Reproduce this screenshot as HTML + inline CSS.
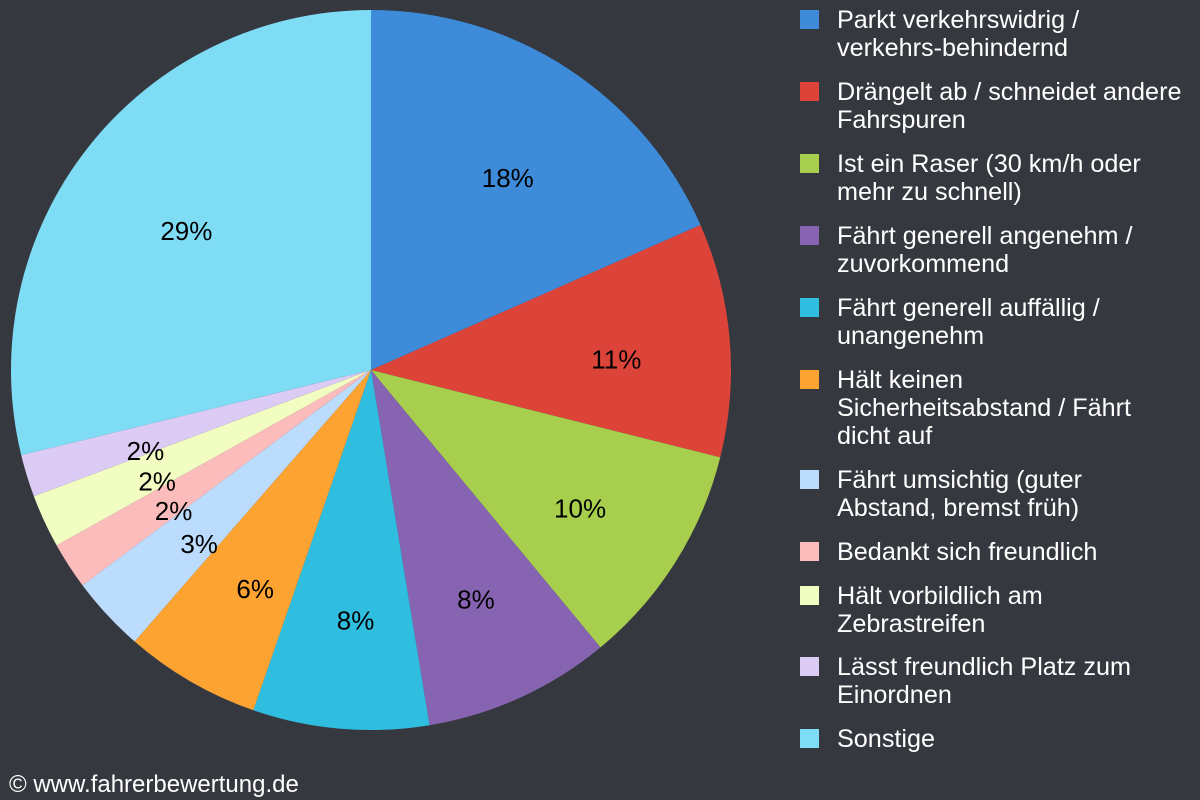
<!DOCTYPE html>
<html><head><meta charset="utf-8"><style>
body{margin:0;background:#363840;width:1200px;height:800px;overflow:hidden;font-family:"Liberation Sans",sans-serif}
svg{position:absolute;left:0;top:0}
.leg{position:absolute;left:800px;top:0}
.item{position:absolute;left:0;width:400px}
.sw{position:absolute;left:0;top:0px;width:19px;height:19px}
.tx{position:absolute;left:37px;top:-4px;color:#fff;font-size:25.2px;line-height:28px;white-space:nowrap}
.copy{position:absolute;left:9px;top:771px;color:#fff;font-size:24px}
</style></head><body>
<svg width="1200" height="800"><g id="pie"></g></svg>
<div class="leg" id="leg"></div>
<div class="copy">© www.fahrerbewertung.de</div>
<script>
const categories=["Parkt verkehrswidrig /\nverkehrs-behindernd","Drängelt ab / schneidet andere\nFahrspuren","Ist ein Raser (30 km/h oder\nmehr zu schnell)","Fährt generell angenehm /\nzuvorkommend","Fährt generell auffällig /\nunangenehm","Hält keinen\nSicherheitsabstand / Fährt\ndicht auf","Fährt umsichtig (guter\nAbstand, bremst früh)","Bedankt sich freundlich","Hält vorbildlich am\nZebrastreifen","Lässt freundlich Platz zum\nEinordnen","Sonstige"];
const values=[18.4,10.5,10.1,8.4,7.9,6.1,3.4,2.1,2.4,1.9,28.8];
const colors=["#3d8bd9","#dc4439","#a7cf4d","#8764b2","#2fbde0","#fca332","#bcdcfd","#fdbcbc","#f2fdc2","#dccbf5","#7fdcf5"];
const legendTops=[10,82,154,226,298,370,470,542,586,657,729];
const cx=371,cy=370,r=360;
const g=document.getElementById('pie');
const total=values.reduce((a,b)=>a+b,0);
let a0=0;
values.forEach((v,i)=>{
 const a1=a0+v/total*2*Math.PI;
 const p=(a)=>[cx+r*Math.sin(a),cy-r*Math.cos(a)];
 const [x0,y0]=p(a0),[x1,y1]=p(a1);
 const path=document.createElementNS("http://www.w3.org/2000/svg","path");
 path.setAttribute('d',`M${cx},${cy}L${x0},${y0}A${r},${r} 0 ${a1-a0>Math.PI?1:0} 1 ${x1},${y1}Z`);
 path.setAttribute('fill',colors[i]);
 
 
 g.appendChild(path);
 const am=(a0+a1)/2, lr=r*0.67;
 const t=document.createElementNS("http://www.w3.org/2000/svg","text");
 t.setAttribute('x',cx+lr*Math.sin(am)+5);t.setAttribute('y',cy-lr*Math.cos(am)+19);
 t.setAttribute('text-anchor','middle');t.setAttribute('font-size','26');t.setAttribute('fill','#000');
 t.textContent=Math.round(v)+'%';
 
 
 g.appendChild(t);
 a0=a1;
});
const leg=document.getElementById('leg');
categories.forEach((c,i)=>{
 const d=document.createElement('div');d.className='item';d.style.top=legendTops[i]+'px';
 
 
 d.innerHTML=`<div class="sw" style="background:${colors[i]}"></div><div class="tx">${c.replace(/\n/g,'<br>')}</div>`;
 leg.appendChild(d);
});
</script>
</body></html>
